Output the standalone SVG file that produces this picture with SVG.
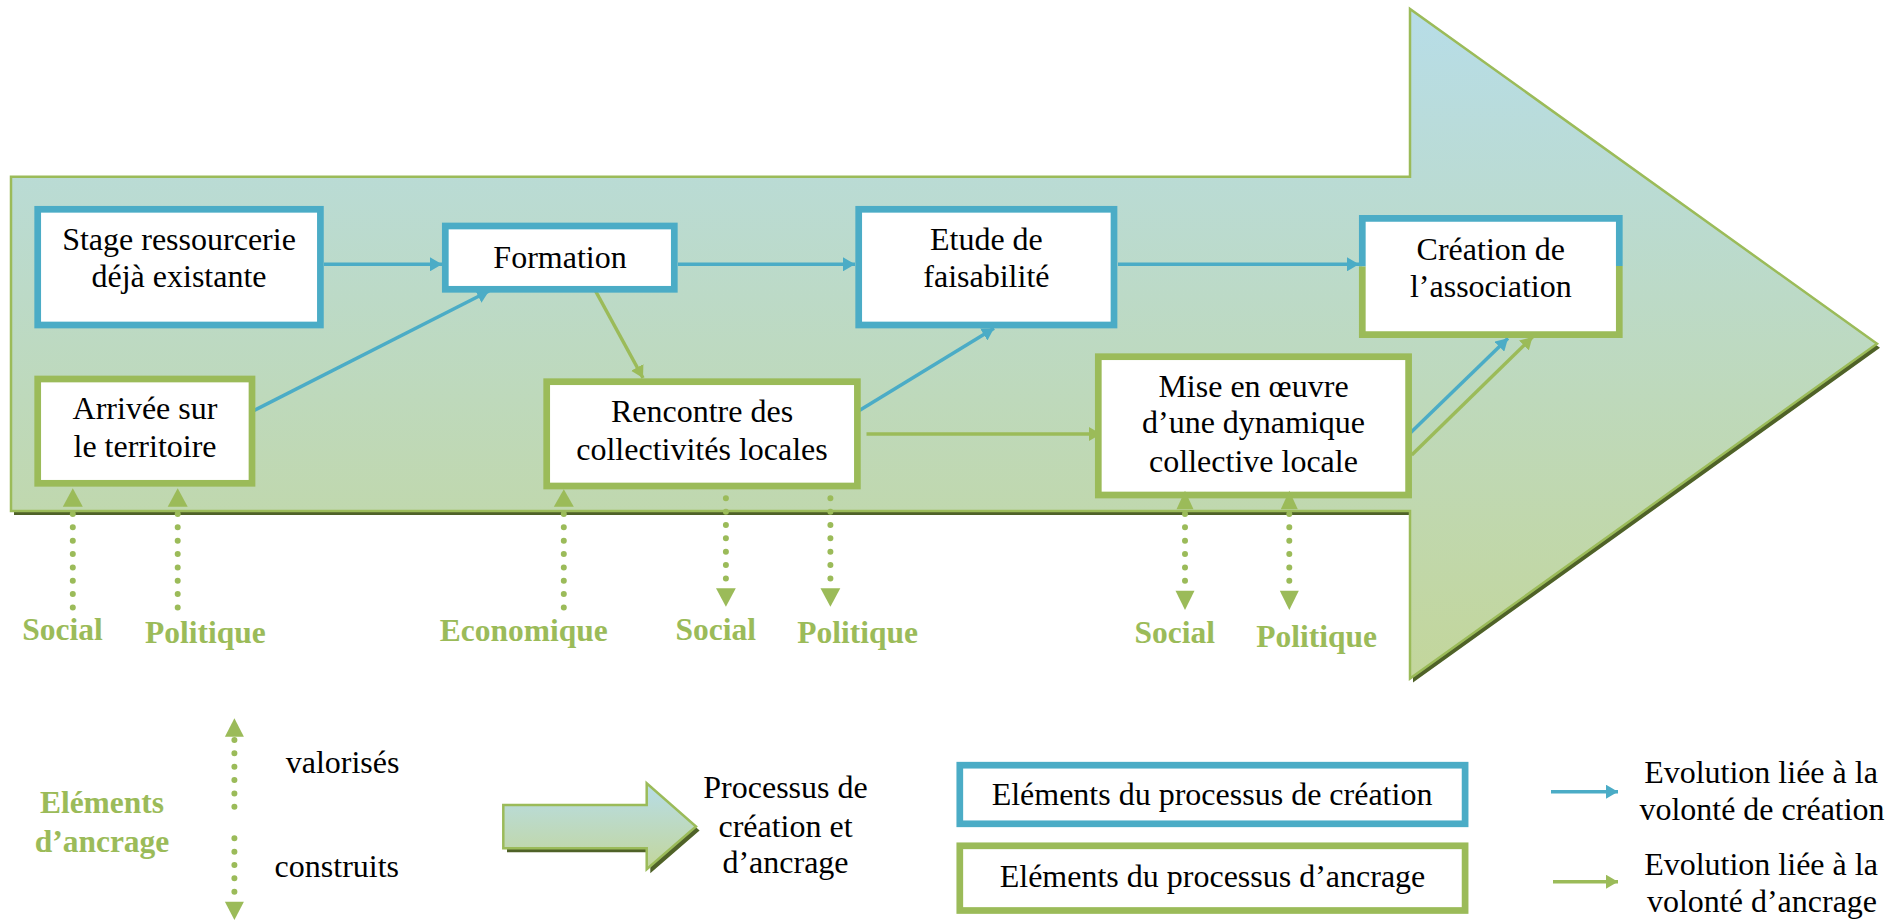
<svg xmlns="http://www.w3.org/2000/svg" width="1901" height="921" viewBox="0 0 1901 921">
<style>
.t{font-family:"Liberation Serif","Times New Roman",serif;font-size:32px;fill:#000;text-anchor:middle}
.lb{font-family:"Liberation Serif","Times New Roman",serif;font-size:31.5px;font-weight:bold;fill:#9bbb59}
.box{fill:#fff;stroke-width:6.7}
.bb{stroke:#4bacc6}
.gb{stroke:#9bbb59}
.cb{fill:none;stroke:#4bacc6;stroke-width:3.5}
.cg{fill:none;stroke:#9bbb59;stroke-width:3.5}
.dot{fill:none;stroke:#9bbb59;stroke-width:6;stroke-linecap:round;stroke-dasharray:0 13.35}
.tri{fill:#9bbb59}
</style>
<defs>
<linearGradient id="grad" x1="0" y1="9" x2="0" y2="679" gradientUnits="userSpaceOnUse">
<stop offset="0" stop-color="#b7dde8"/>
<stop offset="1" stop-color="#c3d69b"/>
</linearGradient>
<linearGradient id="grad2" x1="0" y1="0" x2="0" y2="1">
<stop offset="0" stop-color="#b7dde8"/>
<stop offset="1" stop-color="#c3d69b"/>
</linearGradient>
<marker id="ab" viewBox="0 0 12 14" refX="12" refY="7" markerWidth="12" markerHeight="14" markerUnits="userSpaceOnUse" orient="auto"><path d="M0,0L12,7L0,14z" fill="#4bacc6"/></marker>
<marker id="ag" viewBox="0 0 12 14" refX="12" refY="7" markerWidth="12" markerHeight="14" markerUnits="userSpaceOnUse" orient="auto"><path d="M0,0L12,7L0,14z" fill="#9bbb59"/></marker>
</defs>

<g id="process-arrow">
<polygon points="14,180.7 1413,180.7 1413,12.9 1880,347.75 1413,682.6 1413,515 14,515" fill="#4f6228"/>
<polygon points="11,176.7 1410,176.7 1410,8.9 1877,343.75 1410,678.6 1410,511 11,511" fill="url(#grad)" stroke="#9bbb59" stroke-width="2.5"/>
</g>

<g id="connectors">
<line class="cb" x1="324" y1="264.3" x2="442" y2="264.3" marker-end="url(#ab)"/>
<line class="cb" x1="678" y1="264.3" x2="855" y2="264.3" marker-end="url(#ab)"/>
<line class="cb" x1="1118" y1="264.3" x2="1359" y2="264.3" marker-end="url(#ab)"/>
<line class="cb" x1="253" y1="411" x2="489" y2="291" marker-end="url(#ab)"/>
<line class="cg" x1="595" y1="290" x2="643" y2="378" marker-end="url(#ag)"/>
<line class="cb" x1="858.5" y1="411" x2="994" y2="328.3" marker-end="url(#ab)"/>
<line class="cg" x1="866.5" y1="434" x2="1101" y2="434" marker-end="url(#ag)"/>
<line class="cb" x1="1410" y1="433.3" x2="1508" y2="338.3" marker-end="url(#ab)"/>
<line class="cg" x1="1411.7" y1="455" x2="1532.5" y2="337" marker-end="url(#ag)"/>
</g>

<g id="node-stage">
<rect class="box bb" x="37.7" y="209.3" width="282.7" height="115.7"/>
<text class="t" x="179" y="250">Stage ressourcerie</text>
<text class="t" x="179" y="286.7">déjà existante</text>
</g>
<g id="node-formation">
<rect class="box bb" x="445.3" y="226" width="229" height="63.3"/>
<text class="t" x="560" y="268">Formation</text>
</g>
<g id="node-etude">
<rect class="box bb" x="858.7" y="209.3" width="255.3" height="115.7"/>
<text class="t" x="986.4" y="250">Etude de</text>
<text class="t" x="986.4" y="286.7">faisabilité</text>
</g>
<g id="node-creation">
<rect x="1362.3" y="218.3" width="257" height="116.3" fill="#fff"/>
<path d="M1362.3,266.5V218.3H1619.3V266" fill="none" stroke="#4bacc6" stroke-width="6.7"/>
<path d="M1362.3,266.5V334.6H1619.3V266" fill="none" stroke="#9bbb59" stroke-width="6.7"/>
<text class="t" x="1490.8" y="260">Création de</text>
<text class="t" x="1490.8" y="297.3">l’association</text>
</g>
<g id="node-arrivee">
<rect class="box gb" x="37.7" y="379" width="214.3" height="104.3"/>
<text class="t" x="145" y="419.3">Arrivée sur</text>
<text class="t" x="145" y="457.3">le territoire</text>
</g>
<g id="node-rencontre">
<rect class="box gb" x="546.7" y="381.7" width="310.7" height="104.3"/>
<text class="t" x="702" y="421.7">Rencontre des</text>
<text class="t" x="702" y="460">collectivités locales</text>
</g>
<g id="node-mise">
<rect class="box gb" x="1098.3" y="356.7" width="310.3" height="138.3"/>
<text class="t" x="1253.5" y="396.7">Mise en œuvre</text>
<text class="t" x="1253.5" y="433.3">d’une dynamique</text>
<text class="t" x="1253.5" y="471.7">collective locale</text>
</g>

<g id="anchors">
<line class="dot" x1="72.8" y1="514" x2="72.8" y2="608"/>
<polygon class="tri" points="62.8,506.7 82.8,506.7 72.8,488.3"/>
<line class="dot" x1="177.7" y1="514" x2="177.7" y2="608"/>
<polygon class="tri" points="167.7,506.7 187.7,506.7 177.7,488.3"/>
<line class="dot" x1="563.8" y1="514" x2="563.8" y2="608"/>
<polygon class="tri" points="553.8,506.7 573.8,506.7 563.8,489.3"/>
<line class="dot" x1="725.9" y1="498.3" x2="725.9" y2="578.4"/>
<polygon class="tri" points="716,588.3 735.8,588.3 725.9,606.7"/>
<line class="dot" x1="830.4" y1="498.3" x2="830.4" y2="578.4"/>
<polygon class="tri" points="820.5,588.3 840.3,588.3 830.4,606.7"/>
<line class="dot" x1="1185" y1="514" x2="1185" y2="581"/>
<polygon class="tri" points="1176.5,509.3 1193.5,509.3 1185,490.7"/>
<polygon class="tri" points="1175.5,590.7 1194.5,590.7 1185,610"/>
<line class="dot" x1="1289.3" y1="514" x2="1289.3" y2="581"/>
<polygon class="tri" points="1280.8,509.3 1297.8,509.3 1289.3,490.7"/>
<polygon class="tri" points="1279.8,590.7 1298.8,590.7 1289.3,610"/>
</g>

<g id="anchor-labels">
<text class="lb" x="22.3" y="640">Social</text>
<text class="lb" x="145" y="643">Politique</text>
<text class="lb" x="439.7" y="641">Economique</text>
<text class="lb" x="675.4" y="640">Social</text>
<text class="lb" x="797.3" y="643">Politique</text>
<text class="lb" x="1134.4" y="643">Social</text>
<text class="lb" x="1256.3" y="646.7">Politique</text>
</g>

<g id="legend">
<text class="lb" x="102" y="813.3" text-anchor="middle">Eléments</text>
<text class="lb" x="102" y="851.7" text-anchor="middle">d’ancrage</text>
<line class="dot" x1="234.4" y1="740" x2="234.4" y2="808.5"/>
<line class="dot" x1="234.4" y1="838.3" x2="234.4" y2="892"/>
<polygon class="tri" points="224.9,736.7 243.9,736.7 234.4,718.3"/>
<polygon class="tri" points="224.9,901.7 243.9,901.7 234.4,920"/>
<text class="t" x="285.7" y="773.3" style="text-anchor:start">valorisés</text>
<text class="t" x="274.6" y="876.7" style="text-anchor:start">construits</text>
<polygon points="507,809 650.3,809 650.3,787.3 699.6,830.5 650.3,873.3 650.3,852.3 507,852.3" fill="#4f6228"/>
<polygon points="503.3,805 646.7,805 646.7,783.3 696,826.5 646.7,869.3 646.7,848.3 503.3,848.3" fill="url(#grad2)" stroke="#9bbb59" stroke-width="2.5"/>
<text class="t" x="785.5" y="798">Processus de</text>
<text class="t" x="785.5" y="836.7">création et</text>
<text class="t" x="785.5" y="873.3">d’ancrage</text>
<rect class="box bb" x="959.8" y="765.2" width="505.3" height="58.6"/>
<text class="t" x="1212" y="805">Eléments du processus de création</text>
<rect class="box gb" x="959.8" y="845.8" width="505.3" height="64.7"/>
<text class="t" x="1212.5" y="886.7">Eléments du processus d’ancrage</text>
<line class="cb" x1="1551" y1="791.7" x2="1618" y2="791.7" marker-end="url(#ab)"/>
<line class="cg" x1="1553" y1="881.7" x2="1618" y2="881.7" marker-end="url(#ag)"/>
<text class="t" x="1761" y="783">Evolution liée à la</text>
<text class="t" x="1762" y="820">volonté de création</text>
<text class="t" x="1761" y="875">Evolution liée à la</text>
<text class="t" x="1762" y="911.7">volonté d’ancrage</text>
</g>
</svg>
